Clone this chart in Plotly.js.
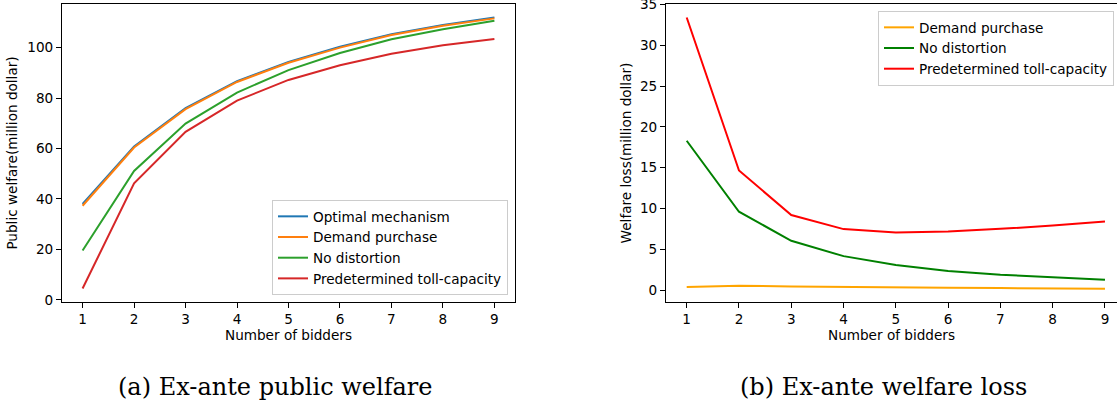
<!DOCTYPE html>
<html>
<head>
<meta charset="utf-8">
<script src="https://cdn.plot.ly/plotly-3.0.1.min.js"></script>
<style>html,body{margin:0;padding:0;background:#fff;}#chart{width:1117px;height:402px;}</style>
</head>
<body>
<div id="chart"></div>
<script>
// Data
const bidders = [1, 2, 3, 4, 5, 6, 7, 8, 9];

// (a) Ex-ante public welfare (million dollar)
const welfareOptimal   = [38.0, 60.8, 76.0, 86.7, 94.3, 100.4, 105.3, 109.0, 112.0];
const welfareDemand    = [37.3, 60.4, 75.6, 86.4, 94.0, 100.0, 105.0, 108.7, 111.6];
const welfareNoDist    = [19.6, 51.1, 69.9, 82.2, 91.1, 97.9, 103.3, 107.3, 110.7];
const welfarePredet    = [4.5, 46.2, 66.6, 79.0, 87.2, 93.0, 97.6, 100.9, 103.4];

// (b) Ex-ante welfare loss (million dollar)
const lossDemand = [0.37, 0.53, 0.45, 0.37, 0.33, 0.29, 0.24, 0.20, 0.16];
const lossNoDist = [18.3, 9.6, 6.04, 4.16, 3.06, 2.33, 1.88, 1.55, 1.27];
const lossPredet = [33.4, 14.65, 9.2, 7.47, 7.06, 7.18, 7.5, 7.9, 8.4];

const namesLeft  = ["Optimal mechanism", "Demand purchase", "No distortion", "Predetermined toll-capacity"];
const namesRight = ["Demand purchase", "No distortion", "Predetermined toll-capacity"];
const xTitle = "Number of bidders";
const yTitleLeft = "Public welfare(million dollar)";
const yTitleRight = "Welfare loss(million dollar)";
const captionA = "(a) Ex-ante public welfare";
const captionB = "(b) Ex-ante welfare loss";

const colorsLeft  = ["#1f77b4", "#ff7f0e", "#2ca02c", "#d62728"];
const colorsRight = ["#ffa500", "#008000", "#ff0000"];

const FONT = "DejaVu Sans";
const FS = 13.6;

const leftSeries = [welfareOptimal, welfareDemand, welfareNoDist, welfarePredet];
const rightSeries = [lossDemand, lossNoDist, lossPredet];

const traces = [];
leftSeries.forEach((ys, i) => traces.push({
  x: bidders, y: ys, name: namesLeft[i], type: "scatter", mode: "lines",
  line: {color: colorsLeft[i], width: 2}, xaxis: "x", yaxis: "y", legend: "legend"
}));
rightSeries.forEach((ys, i) => traces.push({
  x: bidders, y: ys, name: namesRight[i], type: "scatter", mode: "lines",
  line: {color: colorsRight[i], width: 2}, xaxis: "x2", yaxis: "y2", legend: "legend2"
}));

const W = 1117, H = 402;
const mL = 62, mR = 0, mT = 4, mB = 100;
const pw = W - mL - mR;
const ph = H - mT - mB;
const px = v => (v - mL) / pw;
const py = v => (H - mB - v) / ph;

const axisCommon = {
  showgrid: false, zeroline: false, showline: true, linecolor: "#000", linewidth: 1,
  ticks: "outside", ticklen: 5, tickwidth: 1, tickcolor: "#000",
  tickfont: {family: FONT, size: FS, color: "#000"}
};

const layout = {
  width: W, height: H,
  margin: {l: mL, r: mR, t: mT, b: mB, pad: 0},
  paper_bgcolor: "#fff", plot_bgcolor: "#fff",
  font: {family: FONT, size: FS, color: "#000"},
  showlegend: true,
  xaxis: Object.assign({}, axisCommon, {
    domain: [0, px(515)], range: [0.6, 9.4], tickvals: bidders, mirror: true,
    title: {text: xTitle, font: {family: FONT, size: FS, color: "#000"}, standoff: 4}
  }),
  yaxis: Object.assign({}, axisCommon, {
    domain: [0, 1], range: [-0.85, 117.3], tickvals: [0, 20, 40, 60, 80, 100], mirror: true,
    title: {text: yTitleLeft, font: {family: FONT, size: FS, color: "#000"}, standoff: 6}
  }),
  xaxis2: Object.assign({}, axisCommon, {
    domain: [px(666), 1], range: [0.604, 9.23], tickvals: bidders, mirror: true, anchor: "y2",
    title: {text: xTitle, font: {family: FONT, size: FS, color: "#000"}, standoff: 4}
  }),
  yaxis2: Object.assign({}, axisCommon, {
    domain: [0, 1], range: [-1.46, 35.05], tickvals: [0, 5, 10, 15, 20, 25, 30, 35], anchor: "x2",
    ticklabeloverflow: "allow",
    title: {text: yTitleRight, font: {family: FONT, size: FS, color: "#000"}, standoff: 5}
  }),
  legend: {
    xref: "paper", yref: "paper",
    x: px(508), xanchor: "right", y: py(295), yanchor: "bottom",
    bgcolor: "rgba(255,255,255,0.8)", bordercolor: "#cccccc", borderwidth: 1,
    font: {family: FONT, size: FS, color: "#000"}, itemwidth: 30, tracegroupgap: 0
  },
  legend2: {
    xref: "paper", yref: "paper",
    x: px(878), xanchor: "left", y: py(11), yanchor: "top",
    bgcolor: "rgba(255,255,255,0.8)", bordercolor: "#cccccc", borderwidth: 1,
    font: {family: FONT, size: FS, color: "#000"}, itemwidth: 30, tracegroupgap: 0
  },
  annotations: [
    {text: captionA, xref: "paper", yref: "paper", x: px(275), y: py(387),
     xanchor: "center", yanchor: "middle", showarrow: false,
     font: {family: "DejaVu Serif", size: 24, color: "#000"}},
    {text: captionB, xref: "paper", yref: "paper", x: px(883), y: py(387),
     xanchor: "center", yanchor: "middle", showarrow: false,
     font: {family: "DejaVu Serif", size: 24, color: "#000"}}
  ]
};

Plotly.newPlot("chart", traces, layout, {displayModeBar: false, staticPlot: true});
</script>
</body>
</html>
